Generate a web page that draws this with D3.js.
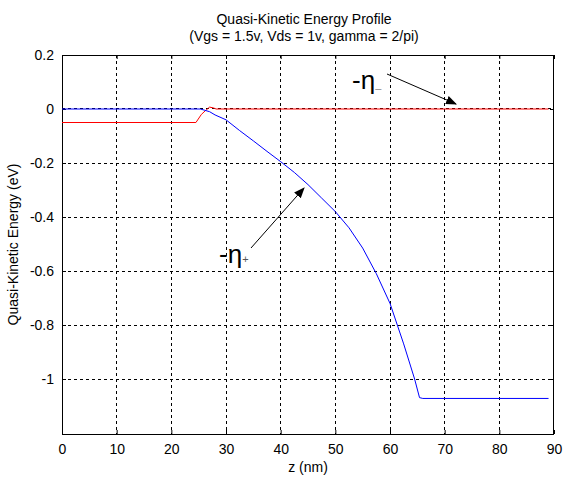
<!DOCTYPE html>
<html>
<head>
<meta charset="utf-8">
<script src="https://cdn.jsdelivr.net/npm/d3@7"></script>
<style>
  body { margin: 0; background: #fff; }
  text { font-family: "Liberation Sans", Arial, sans-serif; fill: #000; }
</style>
</head>
<body>
<svg id="chart"></svg>
<script>
// eta+ (blue) and eta- (red) quasi-kinetic energy
let zPlus = [0, 25.3, 26, 27, 28, 30, 32.5, 35, 37.5, 40, 42.5, 45, 47.5, 50, 52.5, 55, 57.5, 60, 62.5, 64.5, 65.4, 66, 89];
let etaPlus = [0, 0, -0.004, -0.01, -0.022, -0.04, -0.08, -0.118, -0.157, -0.195, -0.235, -0.28, -0.33, -0.38, -0.44, -0.515, -0.61, -0.72, -0.87, -1.0, -1.069, -1.072, -1.072];

let zMinus = [0, 24.5, 25.5, 26.3, 27, 27.7, 28.2, 89];
let etaMinus = [-0.05, -0.05, -0.02, -0.005, 0.007, 0.004, 0, 0];

let xTicks = [0, 10, 20, 30, 40, 50, 60, 70, 80, 90];
let yTicks = [0.2, 0, -0.2, -0.4, -0.6, -0.8, -1];

function draw() {
    let w = 563, h = 477;
    let left = 62, right = 554, top = 55, bottom = 434;

    let svg = d3.select("#chart").attr("width", w).attr("height", h);

    svg.append("defs").append("marker")
        .attr("id", "head")
        .attr("viewBox", "0 0 10 10")
        .attr("refX", 9).attr("refY", 5)
        .attr("markerWidth", 11).attr("markerHeight", 11)
        .attr("markerUnits", "userSpaceOnUse")
        .attr("orient", "auto")
        .append("path").attr("d", "M0,1 L10,5 L0,9 Z").attr("fill", "#000");

    let x = d3.scaleLinear().domain([0, 90]).range([left, right]);
    let y = d3.scaleLinear().domain([0.2, -1.2]).range([top, top + 378]);
    let px = v => Math.floor(v) + 0.5;

    // dashed grid
    let grid = svg.append("g").attr("stroke", "#000").attr("stroke-width", 1)
        .attr("stroke-dasharray", "3,3").attr("shape-rendering", "crispEdges");
    grid.selectAll(".gx").data(xTicks.slice(1, -1)).enter().append("line")
        .attr("x1", d => px(x(d))).attr("x2", d => px(x(d)))
        .attr("y1", top).attr("y2", bottom);
    grid.selectAll(".gy").data(yTicks.slice(1)).enter().append("line")
        .attr("y1", d => px(y(d))).attr("y2", d => px(y(d)))
        .attr("x1", left).attr("x2", right);

    // axes, ticks inward
    let fmt = d => String(+d.toFixed(1));
    let xAxis = svg.append("g").attr("transform", `translate(0,${bottom})`)
        .call(d3.axisBottom(x).tickValues(xTicks).tickSize(-4).tickPadding(10).tickFormat(fmt));
    let xTop = svg.append("g").attr("transform", `translate(0,${top})`)
        .call(d3.axisTop(x).tickValues(xTicks).tickSize(-4).tickFormat(""));
    let yAxis = svg.append("g").attr("transform", `translate(${left},0)`)
        .call(d3.axisLeft(y).tickValues(yTicks).tickSize(-4).tickPadding(8).tickFormat(fmt));
    let yRight = svg.append("g").attr("transform", `translate(${right},0)`)
        .call(d3.axisRight(y).tickValues(yTicks).tickSize(-4).tickFormat(""));
    [xAxis, xTop, yAxis, yRight].forEach(g => {
        g.select(".domain").remove();
        g.selectAll("line").attr("stroke", "#000");
        g.selectAll("text").attr("font-size", 14).attr("font-family", "Liberation Sans, Arial, sans-serif").attr("fill", "#000");
    });

    svg.append("rect").attr("x", left + 0.5).attr("y", top + 0.5)
        .attr("width", right - left - 1).attr("height", bottom - top)
        .attr("fill", "none").attr("stroke", "#000").attr("stroke-width", 1);

    let line = d3.line().x(d => x(d[0])).y(d => y(d[1]));
    svg.append("path").datum(d3.zip(zMinus, etaMinus))
        .attr("d", line).attr("fill", "none").attr("stroke", "#ff0000").attr("stroke-width", 1);
    svg.append("path").datum(d3.zip(zPlus, etaPlus))
        .attr("d", line).attr("fill", "none").attr("stroke", "#0000ff").attr("stroke-width", 1);

    // titles
    svg.append("text").attr("x", 304).attr("y", 24).attr("text-anchor", "middle")
        .attr("font-size", 14).text("Quasi-Kinetic Energy Profile");
    svg.append("text").attr("x", 304).attr("y", 41).attr("text-anchor", "middle")
        .attr("font-size", 14).text("(Vgs = 1.5v, Vds = 1v, gamma = 2/pi)");
    svg.append("text").attr("x", (left + right) / 2).attr("y", 472).attr("text-anchor", "middle")
        .attr("font-size", 14).text("z (nm)");
    svg.append("text").attr("transform", `translate(18,${(top + bottom) / 2}) rotate(-90)`)
        .attr("text-anchor", "middle").attr("font-size", 14).text("Quasi-Kinetic Energy (eV)");

    // annotations
    let a1 = svg.append("text").attr("x", 352).attr("y", 89).attr("font-size", 26);
    a1.append("tspan").text("-η");
    a1.append("tspan").attr("font-size", 11).attr("dy", 3).attr("fill", "#888").text("\u2013");
    svg.append("line").attr("x1", 387).attr("y1", 74).attr("x2", 456).attr("y2", 104)
        .attr("stroke", "#000").attr("stroke-width", 1).attr("marker-end", "url(#head)");

    let a2 = svg.append("text").attr("x", 219).attr("y", 263).attr("font-size", 26);
    a2.append("tspan").text("-η");
    a2.append("tspan").attr("font-size", 11).attr("dy", 0).attr("fill", "#555").text("+");
    svg.append("line").attr("x1", 251).attr("y1", 248).attr("x2", 304).attr("y2", 188)
        .attr("stroke", "#000").attr("stroke-width", 1).attr("marker-end", "url(#head)");
}

window.onload = function() {
    draw();
}
</script>
</body>
</html>
